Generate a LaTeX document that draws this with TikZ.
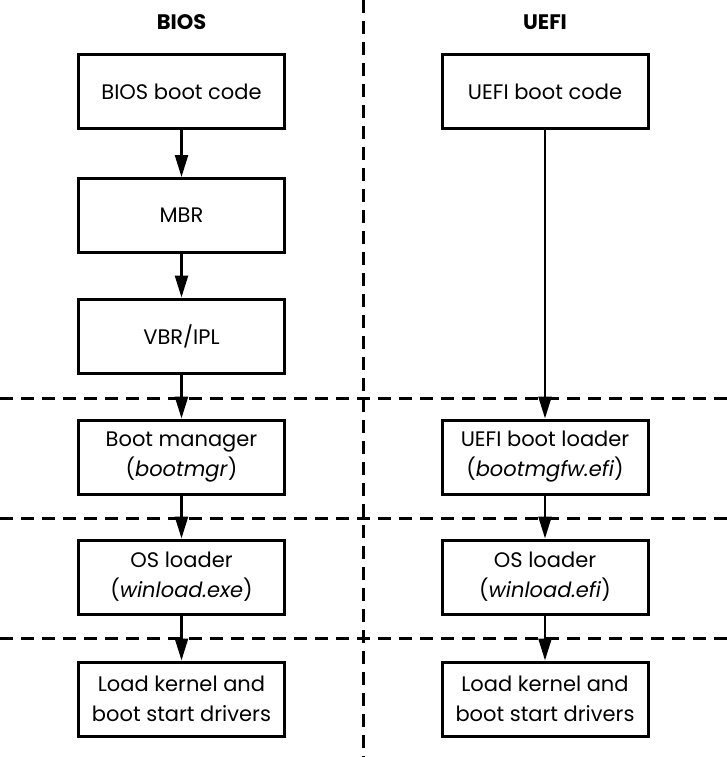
\documentclass[tikz,border=0pt]{standalone}
\usepackage{fontspec}
\setmainfont{Poppins}
\usetikzlibrary{arrows.meta}
\begin{document}
\begin{tikzpicture}[x=1pt,y=-1pt,
  stepbox/.style={draw,line width=3pt,minimum width=206pt,minimum height=74pt,
    align=center,inner sep=0pt,font=\fontsize{21}{30}\selectfont},
  title/.style={font=\bfseries\fontsize{21}{24}\selectfont},
  sep/.style={line width=3pt,dash pattern=on 13pt off 8pt},
  flow/.style={line width=2.4pt,-{Triangle[length=22pt,width=13pt]}}]
\useasboundingbox (0,0) rectangle (727,757);
% separators
\draw[sep] (363,0) -- (363,757);
\draw[sep] (0,398) -- (727,398);
\draw[sep] (0,518) -- (727,518);
\draw[sep] (0,638) -- (727,638);
% titles
\node[title] (tb) at (181.5,22) {BIOS};
\node[title] (tu) at (545,22) {UEFI};
% BIOS column
\node[stepbox] (b1) at (181.5,91.5) {BIOS boot code};
\node[stepbox] (b2) at (181.5,215.5) {MBR};
\node[stepbox] (b3) at (181.5,336) {VBR/IPL};
\node[stepbox] (b4) at (181.5,457) {Boot manager\\(\textit{bootmgr})};
\node[stepbox] (b5) at (181.5,577) {OS loader\\(\textit{winload.exe})};
\node[stepbox] (b6) at (181.5,699) {Load kernel and\\boot start drivers};
% UEFI column
\node[stepbox] (u1) at (545,91.5) {UEFI boot code};
\node[stepbox] (u4) at (545,457) {UEFI boot loader\\(\textit{bootmgfw.efi})};
\node[stepbox] (u5) at (545,577) {OS loader\\(\textit{winload.efi})};
\node[stepbox] (u6) at (545,699) {Load kernel and\\boot start drivers};
% arrows
\draw[flow] (b1) -- (b2);
\draw[flow] (b2) -- (b3);
\draw[flow] (b3) -- (b4);
\draw[flow] (b4) -- (b5);
\draw[flow] (b5) -- (b6);
\draw[flow] (u1) -- (u4);
\draw[flow] (u4) -- (u5);
\draw[flow] (u5) -- (u6);
\end{tikzpicture}
\end{document}
